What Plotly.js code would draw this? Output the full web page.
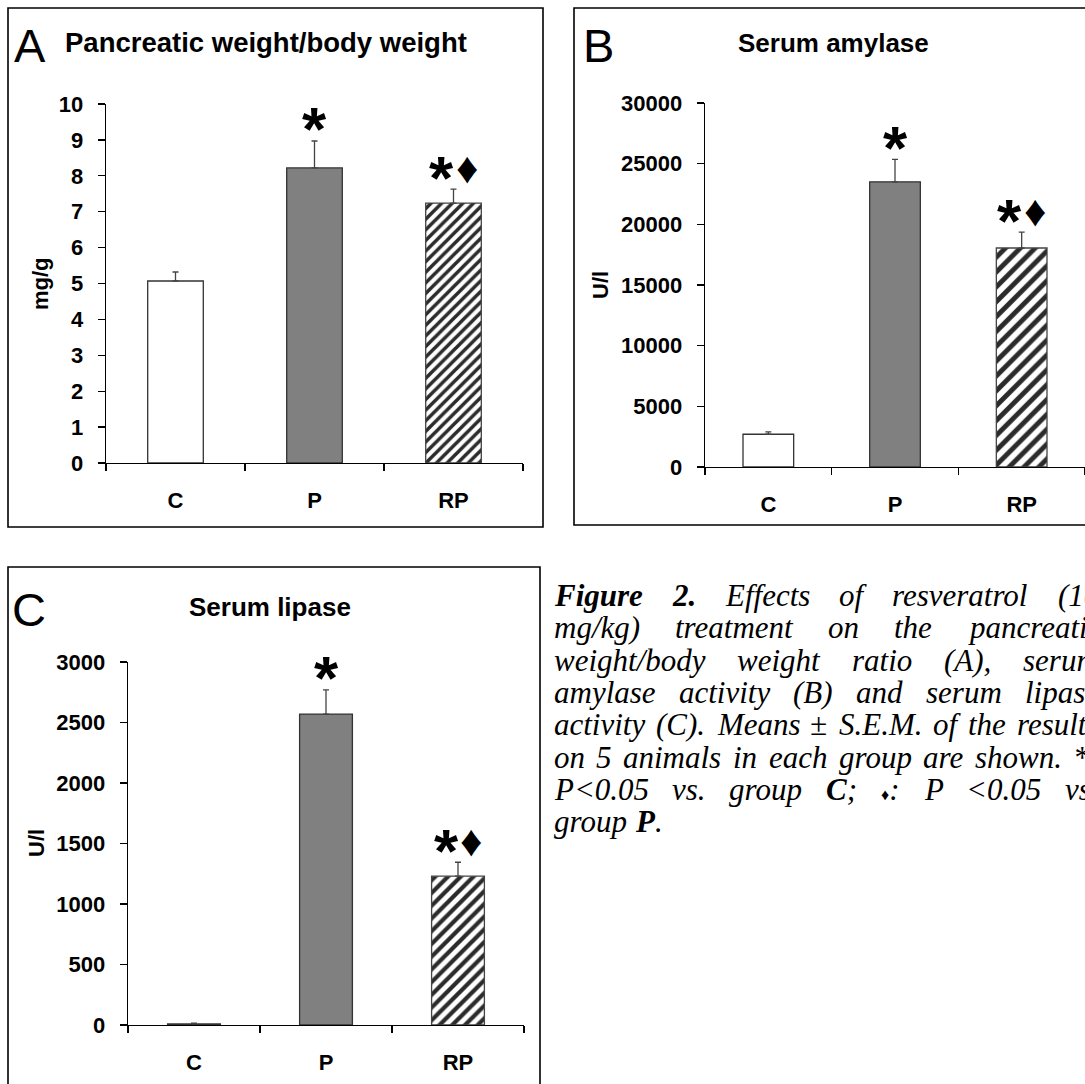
<!DOCTYPE html>
<html>
<head>
<meta charset="utf-8">
<script src="https://cdn.plot.ly/plotly-3.0.1.min.js"></script>
<style>
  html, body { margin: 0; padding: 0; background: #fff; }
  #chart { width: 1085px; height: 1084px; }
</style>
</head>
<body>
<div id="chart"></div>
<script>
// ---------------- data ----------------
const categories = ['C', 'P', 'RP'];

const pancreasMeans = [5.07, 8.22, 7.24];     // mg/g
const pancreasSem   = [0.25, 0.75, 0.39];

const amylaseMeans  = [2700, 23500, 18050];   // U/l
const amylaseSem    = [200, 1850, 1300];

const lipaseMeans   = [10, 2570, 1230];       // U/l
const lipaseSem     = [5, 200, 115];

const starMarks     = ['', '*', '*'];         // P<0.05 vs C
const diamondMarks  = ['', '', '\u2666'];     // P<0.05 vs P

const panelLetters  = ['A', 'B', 'C'];
const panelTitles   = ['Pancreatic weight/body weight', 'Serum amylase', 'Serum lipase'];
const yAxisTitles   = ['mg/g', 'U/l', 'U/l'];
const yRanges       = [[0, 10], [0, 30000], [0, 3000]];
const yDticks       = [1, 5000, 500];

// ---------------- layout helpers ----------------
const W = 1085, H = 1084;
const px = v => v / W;
const py = v => 1 - v / H;
const SANS = '"Liberation Sans", Arial, sans-serif';
const SERIF = '"Liberation Serif", "Times New Roman", serif';

const panels = [
  { data: [pancreasMeans, pancreasSem], xdom: [106, 523], ytop: 104, ybot: 463,
    box: [8, 8, 543, 527], letter: [12, 46], title: [266, 43], titleSize: 27.5, ytitle: [40, 284], hatch: 7.5 },
  { data: [amylaseMeans, amylaseSem], xdom: [705, 1085], ytop: 103, ybot: 467,
    box: [574, 8, 1095, 525], letter: [581, 45], title: [833, 43], titleSize: 26, ytitle: [601, 285], hatch: 10.5 },
  { data: [lipaseMeans, lipaseSem], xdom: [128, 524], ytop: 662, ybot: 1025,
    box: [8, 567, 540, 1095], letter: [10, 609], title: [270, 607], titleSize: 26, ytitle: [36, 843], hatch: 9 }
];

const traces = [];
const layout = {
  width: W, height: H,
  margin: { l: 0, r: 0, t: 0, b: 0 },
  paper_bgcolor: '#ffffff',
  plot_bgcolor: 'rgba(0,0,0,0)',
  showlegend: false,
  barmode: 'overlay',
  bargap: 0.6,
  shapes: [],
  annotations: []
};

panels.forEach((p, i) => {
  const n = i === 0 ? '' : String(i + 1);
  const xa = 'x' + n, ya = 'y' + n;
  const [means, sem] = p.data;

  // C and P bars (plain fills)
  traces.push({
    type: 'bar',
    x: categories.slice(0, 2),
    y: means.slice(0, 2),
    xaxis: xa, yaxis: ya,
    marker: { color: ['#ffffff', '#808080'], line: { color: '#333333', width: 1.3 } },
    error_y: { type: 'data', symmetric: false, array: sem.slice(0, 2), arrayminus: [0, 0],
               color: '#444444', thickness: 1.3, width: 3 },
    hoverinfo: 'skip'
  });
  // RP bar (hatched)
  traces.push({
    type: 'bar',
    x: categories.slice(2),
    y: means.slice(2),
    xaxis: xa, yaxis: ya,
    marker: {
      color: '#2b2b2b',
      line: { color: '#444444', width: 1.3 },
      pattern: { shape: '/', fgcolor: '#2b2b2b', bgcolor: '#ffffff', size: p.hatch, solidity: 0.47 }
    },
    error_y: { type: 'data', symmetric: false, array: sem.slice(2), arrayminus: [0],
               color: '#444444', thickness: 1.3, width: 3 },
    hoverinfo: 'skip'
  });

  layout['xaxis' + n] = {
    domain: [px(p.xdom[0]), px(p.xdom[1])],
    anchor: ya,
    type: 'category',
    categoryorder: 'array', categoryarray: categories,
    range: [-0.5, 2.5],
    showgrid: false, zeroline: false,
    showline: true, linecolor: '#000000', linewidth: 1.3,
    ticks: 'outside', tickson: 'boundaries', ticklen: 7, tickwidth: 1.3, tickcolor: '#000000',
    tickfont: { family: SANS, size: 22, color: '#000000', weight: 'bold' },
    ticklabelstandoff: 17,
    fixedrange: true
  };
  layout['yaxis' + n] = {
    domain: [py(p.ybot), py(p.ytop)],
    anchor: xa,
    range: yRanges[i],
    dtick: yDticks[i],
    tickformat: 'd',
    showgrid: false, zeroline: false,
    showline: true, linecolor: '#000000', linewidth: 1.3,
    ticks: 'outside', ticklen: 7, tickwidth: 1.3, tickcolor: '#000000',
    tickfont: { family: SANS, size: 22, color: '#000000', weight: 'bold' },
    ticklabelstandoff: 10,
    fixedrange: true
  };

  // panel frame
  layout.shapes.push({
    type: 'rect', xref: 'paper', yref: 'paper',
    x0: px(p.box[0]), x1: px(p.box[2]), y0: py(p.box[3]), y1: py(p.box[1]),
    line: { color: '#000000', width: 1.6 }, fillcolor: 'rgba(0,0,0,0)', layer: 'below'
  });

  // panel letter
  layout.annotations.push({
    xref: 'paper', yref: 'paper', x: px(p.letter[0]), y: py(p.letter[1]),
    xanchor: 'left', yanchor: 'middle', showarrow: false,
    text: panelLetters[i], font: { family: SANS, size: 47, color: '#000000' }
  });
  // panel title
  layout.annotations.push({
    xref: 'paper', yref: 'paper', x: px(p.title[0]), y: py(p.title[1]),
    xanchor: 'center', yanchor: 'middle', showarrow: false,
    text: '<b>' + panelTitles[i] + '</b>', font: { family: SANS, size: p.titleSize, color: '#000000' }
  });
  // y axis title
  layout.annotations.push({
    xref: 'paper', yref: 'paper', x: px(p.ytitle[0]), y: py(p.ytitle[1]),
    xanchor: 'center', yanchor: 'middle', showarrow: false, textangle: -90,
    text: '<b>' + yAxisTitles[i] + '</b>', font: { family: SANS, size: 22, color: '#000000' }
  });

  // significance marks
  categories.forEach((c, j) => {
    const top = means[j] + sem[j];
    const both = starMarks[j] && diamondMarks[j];
    if (starMarks[j]) {
      layout.annotations.push({
        xref: xa, yref: ya, x: c, y: top, xanchor: 'center', yanchor: 'middle',
        xshift: both ? -12 : 0, yshift: 12, showarrow: false,
        text: '<b>' + starMarks[j] + '</b>', font: { family: SANS, size: 62, color: '#000000' }
      });
    }
    if (diamondMarks[j]) {
      layout.annotations.push({
        xref: xa, yref: ya, x: c, y: top, xanchor: 'center', yanchor: 'middle',
        xshift: 13, yshift: 22, showarrow: false,
        text: diamondMarks[j], font: { family: SANS, size: 44, color: '#000000' }
      });
    }
  });
});

// ---------------- caption (justified like the printed figure legend) ----------------
// each word = list of [text, style]; style: 'i' italic, 'b' bold italic, 'd' small diamond
const captionWords = [
  [[['Figure', 'b']], [['2.', 'b']], [['Effects', 'i']], [['of', 'i']], [['resveratrol', 'i']], [['(10', 'i']]],
  [[['mg/kg)', 'i']], [['treatment', 'i']], [['on', 'i']], [['the', 'i']], [['pancreatic', 'i']]],
  [[['weight/body', 'i']], [['weight', 'i']], [['ratio', 'i']], [['(A),', 'i']], [['serum', 'i']]],
  [[['amylase', 'i']], [['activity', 'i']], [['(B)', 'i']], [['and', 'i']], [['serum', 'i']], [['lipase', 'i']]],
  [[['activity', 'i']], [['(C).', 'i']], [['Means', 'i']], [['\u00b1', 'i']], [['S.E.M.', 'i']], [['of', 'i']], [['the', 'i']], [['results', 'i']]],
  [[['on', 'i']], [['5', 'i']], [['animals', 'i']], [['in', 'i']], [['each', 'i']], [['group', 'i']], [['are', 'i']], [['shown.', 'i']], [['*:', 'i']]],
  [[['P<0.05', 'i']], [['vs.', 'i']], [['group', 'i']], [['C', 'b'], [';', 'i']], [['\u2666', 'd'], [':', 'i']], [['P', 'i']], [['<0.05', 'i']], [['vs.', 'i']]],
  [[['group', 'i']], [['P', 'b'], ['.', 'i']]]
];
const CAP_FS = 31, CAP_DIA = 16, CAP_LEFT = 552, CAP_RIGHT = 1097, CAP_BASE = 606, CAP_LH = 32.3;
const ctx = document.createElement('canvas').getContext('2d');
function segFont(style) {
  if (style === 'b') return `italic bold ${CAP_FS}px "Liberation Serif"`;
  if (style === 'd') return `italic ${CAP_DIA}px "Liberation Serif"`;
  return `italic ${CAP_FS}px "Liberation Serif"`;
}
function esc(s) { return s.replace(/&/g, '&amp;').replace(/</g, '&lt;').replace(/>/g, '&gt;'); }
function wordWidth(word) {
  return word.reduce((s, [t, st]) => { ctx.font = segFont(st); return s + ctx.measureText(t).width; }, 0);
}
function wordHtml(word) {
  return '<i>' + word.map(([t, st]) => st === 'b' ? '<b>' + esc(t) + '</b>'
    : st === 'd' ? '<span style="font-size:' + CAP_DIA + 'px">' + esc(t) + '</span>' : esc(t)).join('') + '</i>';
}
ctx.font = segFont('i');
const normalSpace = ctx.measureText(' ').width;
captionWords.forEach((line, li) => {
  const baseline = CAP_BASE + li * CAP_LH;
  const widths = line.map(wordWidth);
  const total = widths.reduce((a, b) => a + b, 0);
  const last = li === captionWords.length - 1;
  const gap = last || line.length < 2 ? normalSpace : (CAP_RIGHT - CAP_LEFT - total) / (line.length - 1);
  let x = CAP_LEFT;
  line.forEach((word, wi) => {
    layout.annotations.push({
      xref: 'paper', yref: 'paper', x: px(x), y: py(baseline - 0.3375 * CAP_FS),
      xanchor: 'left', yanchor: 'middle', showarrow: false,
      text: wordHtml(word), font: { family: SERIF, size: CAP_FS, color: '#000000' }
    });
    x += widths[wi] + gap;
  });
});

Plotly.newPlot('chart', traces, layout, { displayModeBar: false, staticPlot: true });
</script>
</body>
</html>
